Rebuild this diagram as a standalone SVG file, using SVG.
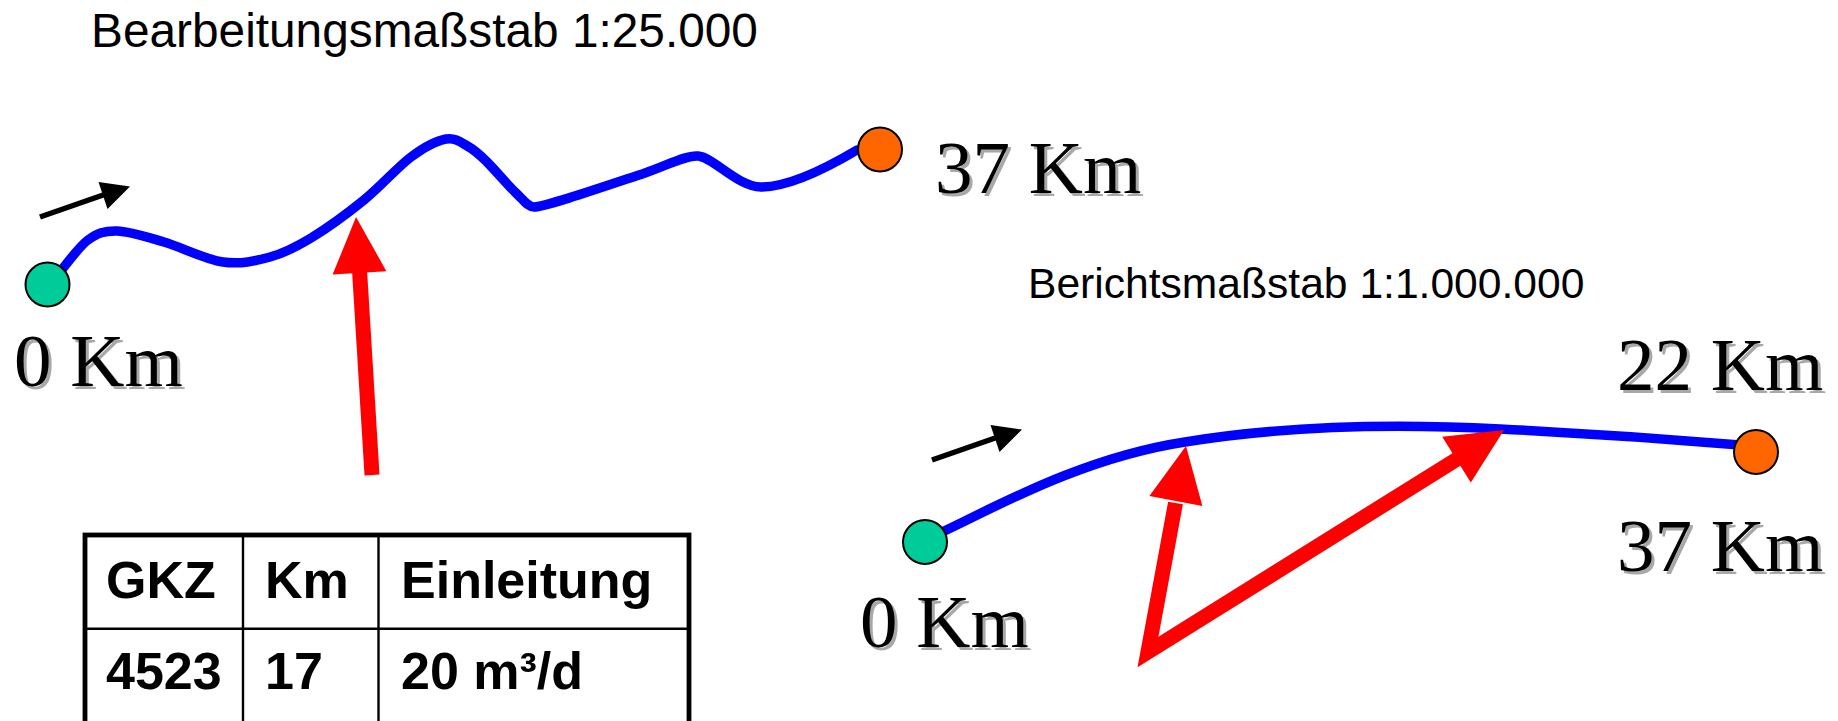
<svg xmlns="http://www.w3.org/2000/svg" width="1838" height="721" viewBox="0 0 1838 721">
  <style>
    .title { font-family: "Liberation Sans", Arial, sans-serif; fill: #000; }
    .km { font-family: "Liberation Serif", "Times New Roman", serif; font-size: 75px; fill: #000; }
    .km-shadow { font-family: "Liberation Serif", "Times New Roman", serif; font-size: 75px; fill: #a8a8a8; }
    .river { fill: none; stroke: #0000ff; stroke-width: 9.5; stroke-linecap: round; stroke-linejoin: round; }
    .start { fill: #00cc99; stroke: #000; stroke-width: 2; }
    .end { fill: #ff6600; stroke: #000; stroke-width: 2; }
    .dir { stroke: #000; stroke-width: 5.5; fill: none; }
    .dir-head { fill: #000; }
    .discharge { stroke: #ff0000; stroke-width: 15; fill: none; stroke-linejoin: miter; stroke-miterlimit: 6; }
    .discharge-head { fill: #ff0000; }
    .cell { font-family: "Liberation Sans", Arial, sans-serif; font-weight: bold; font-size: 52px; fill: #000; }
    .grid { stroke: #000; fill: none; }
  </style>

  <rect width="1838" height="721" fill="#fff"/>

  <!-- Working scale 1:25.000 -->
  <g id="title-working">
    <text class="title" x="91" y="47" font-size="47.8">Bearbeitungsmaßstab 1:25.000</text>
  </g>

  <!-- Report scale 1:1.000.000 -->
  <g id="title-report">
    <text class="title" x="1028" y="298" font-size="42.6">Berichtsmaßstab 1:1.000.000</text>
  </g>

  <g id="connectors">
    <!-- detailed river course -->
    <path class="river" d="M 60 272
      C 64.7 266.7, 78.5 246.8, 88 240
      C 97.5 233.2, 104.3 230.7, 117 231
      C 129.7 231.3, 146.3 236.8, 164 242
      C 181.7 247.2, 205.3 259.5, 223 262
      C 240.7 264.5, 255.3 261, 270 257
      C 284.7 253, 295.3 247.5, 311 238
      C 326.7 228.5, 347.3 213.5, 364 200
      C 380.7 186.5, 397.3 167.2, 411 157
      C 424.7 146.8, 436.3 140.7, 446 139
      C 455.7 137.3, 462.2 143.2, 469 147
      C 475.8 150.8, 479.2 154.3, 487 162
      C 494.8 169.7, 508.2 185.5, 516 193
      C 523.8 200.5, 528 207, 534 207
      C 545 207, 600 188, 645 173
      C 668 165, 686 155, 698 156
      C 713 157, 738 187, 761 187
      C 785 187, 820 172, 857 150"/>

    <!-- generalised river course -->
    <path class="river" d="M 940 533 C 990 510, 1080 458, 1185 442 C 1270 428, 1380 423, 1500 429 C 1600 434, 1680 440, 1740 445"/>

    <!-- flow direction arrows -->
    <line class="dir" x1="40" y1="217" x2="106" y2="194"/>
    <polygon class="dir-head" points="130,186.5 98.5,182 107.5,209"/>
    <line class="dir" x1="932" y1="460" x2="998" y2="437"/>
    <polygon class="dir-head" points="1022,429.5 990.5,425 999.5,452"/>

    <!-- discharge point, detailed -->
    <line class="discharge" x1="372" y1="475" x2="359.5" y2="270"/>
    <polygon class="discharge-head" points="356,217 332.6,274.6 386.4,271.2"/>

    <!-- discharge point, generalised (two positions) -->
    <polyline class="discharge" points="1175.5,503 1148,652 1458,458.5"/>
    <polygon class="discharge-head" points="1186,446 1149.4,496.1 1202.4,505.9"/>
    <polygon class="discharge-head" points="1504,430 1442.2,436.7 1470.8,482.5"/>
  </g>

  <g id="node-start-detail">
    <circle class="start" cx="47.5" cy="284.5" r="22"/>
    <text class="km-shadow" x="17" y="389">0 Km</text>
    <text class="km" x="14" y="386">0 Km</text>
  </g>

  <g id="node-end-detail">
    <circle class="end" cx="880" cy="149.5" r="22"/>
    <text class="km-shadow" x="938" y="196">37 Km</text>
    <text class="km" x="935" y="193">37 Km</text>
  </g>

  <g id="node-start-report">
    <circle class="start" cx="925" cy="542" r="22"/>
    <text class="km-shadow" x="863" y="650">0 Km</text>
    <text class="km" x="860" y="647">0 Km</text>
  </g>

  <g id="node-end-report">
    <circle class="end" cx="1756" cy="452" r="22"/>
    <text class="km-shadow" x="1620" y="393">22 Km</text>
    <text class="km" x="1617" y="390">22 Km</text>
    <text class="km-shadow" x="1620" y="574">37 Km</text>
    <text class="km" x="1617" y="571">37 Km</text>
  </g>

  <!-- discharge record table -->
  <g id="table">
    <rect class="grid" x="85" y="535" width="604" height="200" stroke-width="4.8"/>
    <line class="grid" x1="243" y1="535" x2="243" y2="730" stroke-width="2.4"/>
    <line class="grid" x1="378.5" y1="535" x2="378.5" y2="730" stroke-width="2.4"/>
    <line class="grid" x1="85" y1="628.7" x2="689" y2="628.7" stroke-width="2.6"/>
    <text class="cell" x="106" y="598">GKZ</text>
    <text class="cell" x="265" y="598">Km</text>
    <text class="cell" x="401" y="598">Einleitung</text>
    <text class="cell" x="106" y="689">4523</text>
    <text class="cell" x="265" y="689">17</text>
    <text class="cell" x="401" y="689">20 m³/d</text>
  </g>
</svg>
